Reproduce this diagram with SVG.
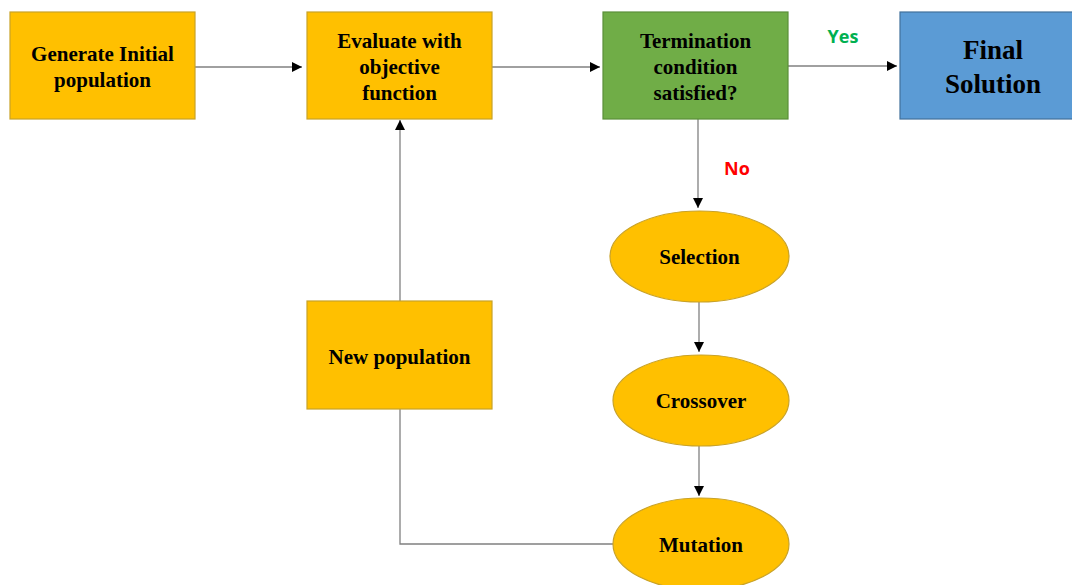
<svg xmlns="http://www.w3.org/2000/svg" width="1072" height="585" viewBox="0 0 1072 585">
<style>
.n{fill:#FFC000;stroke:#C9A227;stroke-width:1.2}
.g{fill:#70AD47;stroke:#5A8F3A;stroke-width:1.2}
.b{fill:#5B9BD5;stroke:#41719C;stroke-width:1.2}
.t{font-family:"Liberation Serif",serif;font-weight:bold;font-size:21px;fill:#000;text-anchor:middle;dominant-baseline:central}
.big{font-size:27px}
.c{fill:none;stroke:#808080;stroke-width:1.3}
.lbl{font-family:"Open Sans","Liberation Sans",sans-serif;font-weight:bold;font-size:18px;text-anchor:middle;dominant-baseline:central}
</style>
<defs>
<marker id="ah" viewBox="0 0 10 10" refX="10" refY="5" markerWidth="10" markerHeight="10" markerUnits="userSpaceOnUse" orient="auto">
<path d="M0,0 L10,5 L0,10 z" fill="#000"/>
</marker>
</defs>
<g id="connectors">
<line class="c" x1="195" y1="67" x2="302" y2="67" marker-end="url(#ah)"/>
<line class="c" x1="492" y1="67" x2="600" y2="67" marker-end="url(#ah)"/>
<line class="c" x1="788" y1="66" x2="897" y2="66" marker-end="url(#ah)"/>
<line class="c" x1="698" y1="119" x2="698" y2="208" marker-end="url(#ah)"/>
<line class="c" x1="699" y1="302" x2="699" y2="352" marker-end="url(#ah)"/>
<line class="c" x1="699" y1="446" x2="699" y2="496" marker-end="url(#ah)"/>
<line class="c" x1="400" y1="301" x2="400" y2="120" marker-end="url(#ah)"/>
<polyline class="c" points="613,544 400,544 400,409"/>
<text class="lbl" x="843" y="36" fill="#00B050">Yes</text>
<text class="lbl" x="737" y="168" fill="#FF0000">No</text>
</g>
<g id="generate">
<rect class="n" x="10" y="12" width="185" height="107"/>
<text class="t" x="102.5" y="54">Generate Initial</text>
<text class="t" x="102.5" y="80">population</text>
</g>
<g id="evaluate">
<rect class="n" x="307" y="12" width="185" height="107"/>
<text class="t" x="399.5" y="41">Evaluate with</text>
<text class="t" x="399.5" y="67">objective</text>
<text class="t" x="399.5" y="93">function</text>
</g>
<g id="termination">
<rect class="g" x="603" y="12" width="185" height="107"/>
<text class="t" x="695.5" y="41">Termination</text>
<text class="t" x="695.5" y="67">condition</text>
<text class="t" x="695.5" y="93">satisfied?</text>
</g>
<g id="final">
<rect class="b" x="900" y="12" width="185" height="107"/>
<text class="t big" x="993" y="50">Final</text>
<text class="t big" x="993" y="84">Solution</text>
</g>
<g id="newpop">
<rect class="n" x="307" y="301" width="185" height="108"/>
<text class="t" x="399.5" y="357">New population</text>
</g>
<g id="selection">
<ellipse class="n" cx="699.5" cy="256.5" rx="89.5" ry="45.5"/>
<text class="t" x="699.5" y="257">Selection</text>
</g>
<g id="crossover">
<ellipse class="n" cx="701" cy="400.5" rx="88" ry="45.5"/>
<text class="t" x="701" y="401">Crossover</text>
</g>
<g id="mutation">
<ellipse class="n" cx="701" cy="544" rx="88" ry="46"/>
<text class="t" x="701" y="545">Mutation</text>
</g>
</svg>
